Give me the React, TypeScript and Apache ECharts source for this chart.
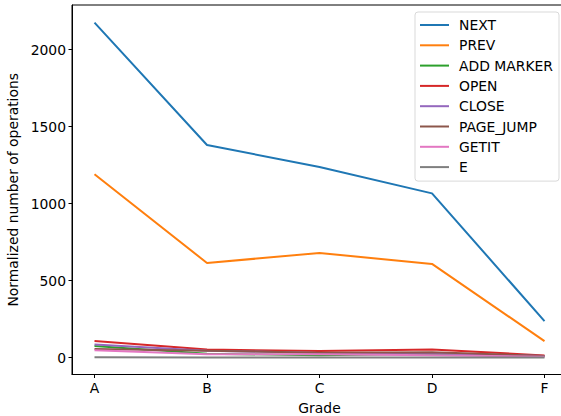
import React, { useEffect, useRef } from "react";
import * as echarts from "echarts";

const grades = ["A", "B", "C", "D", "F"];
const seriesNames = ["NEXT", "PREV", "ADD MARKER", "OPEN", "CLOSE", "PAGE_JUMP", "GETIT", "E"];
const nextVals = [2175, 1380, 1237, 1066, 237];
const prevVals = [1190, 614, 679, 608, 107];
const addMarkerVals = [75, 25, 15, 25, 8];
const openVals = [108, 52, 42, 52, 14];
const closeVals = [85, 45, 30, 28, 10];
const pageJumpVals = [55, 45, 32, 35, 10];
const getitVals = [48, 22, 22, 15, 6];
const eVals = [2, 1, 1, 1, 1];
const yTicks = [0, 500, 1000, 1500, 2000];
const colors = ["#1f77b4", "#ff7f0e", "#2ca02c", "#d62728", "#9467bd", "#8c564b", "#e377c2", "#7f7f7f"];

const allVals = [nextVals, prevVals, addMarkerVals, openVals, closeVals, pageJumpVals, getitVals, eVals];

export default function App() {
  const ref = useRef<HTMLDivElement>(null);
  useEffect(() => {
    document.body.style.margin = "0";
    if (!ref.current) return;
    const chart = echarts.init(ref.current, null, { renderer: "svg" });
    const font = "DejaVu Sans";
    const fs = 13.9;
    chart.setOption({
      animation: false,
      textStyle: { fontFamily: font },
      grid: {
        left: 72,
        top: 5,
        width: 495,
        height: 369.5,
        show: true,
        borderColor: "#000",
        borderWidth: 1,
        containLabel: false,
        outerBoundsMode: "none",
      },
      legend: {
        data: seriesNames,
        orient: "vertical",
        right: 2,
        top: 12,
        padding: [6, 6, 7, 5],
        itemWidth: 29,
        itemHeight: 2,
        itemGap: 6.3,
        icon: "rect",
        borderColor: "#d9d9d9",
        borderWidth: 1,
        borderRadius: 3,
        backgroundColor: "rgba(255,255,255,0.8)",
        textStyle: { fontFamily: font, fontSize: fs, color: "#000", lineHeight: 14, padding: [0, 0, 0, 5] },
      },
      xAxis: {
        type: "value",
        min: -0.2,
        max: 4.2,
        name: "Grade",
        nameLocation: "middle",
        nameGap: 26,
        nameTextStyle: { fontFamily: font, fontSize: fs, color: "#000" },
        axisLine: { show: true, onZero: false, lineStyle: { color: "#000", width: 1 } },
        axisTick: { show: true, length: 3.5, lineStyle: { color: "#000" }, customValues: [0, 1, 2, 3, 4] },
        axisLabel: {
          margin: 6,
          fontFamily: font,
          fontSize: fs,
          color: "#000",
          customValues: [0, 1, 2, 3, 4],
          formatter: (v: number) => grades[Math.round(v)] ?? "",
        },
        splitLine: { show: false },
      },
      yAxis: {
        type: "value",
        min: -110,
        max: 2289,
        name: "Normalized number of operations",
        nameLocation: "middle",
        nameGap: 47,
        nameTextStyle: { fontFamily: font, fontSize: fs, color: "#000" },
        axisLine: { show: true, onZero: false, lineStyle: { color: "#000", width: 1 } },
        axisTick: { show: true, length: 3.5, lineStyle: { color: "#000" }, customValues: yTicks },
        axisLabel: {
          margin: 6,
          fontFamily: font,
          fontSize: fs,
          color: "#000",
          customValues: yTicks,
          formatter: (v: number) => String(v),
        },
        splitLine: { show: false },
      },
      series: seriesNames.map((name, i) => ({
        name,
        type: "line",
        data: allVals[i].map((v, j) => [j, v]),
        showSymbol: false,
        symbol: "none",
        lineStyle: { color: colors[i], width: 2 },
        itemStyle: { color: colors[i] },
        z: 2 + i,
      })),
    });
    return () => chart.dispose();
  }, []);
  return <div ref={ref} style={{ width: 561, height: 416 }} />;
}
